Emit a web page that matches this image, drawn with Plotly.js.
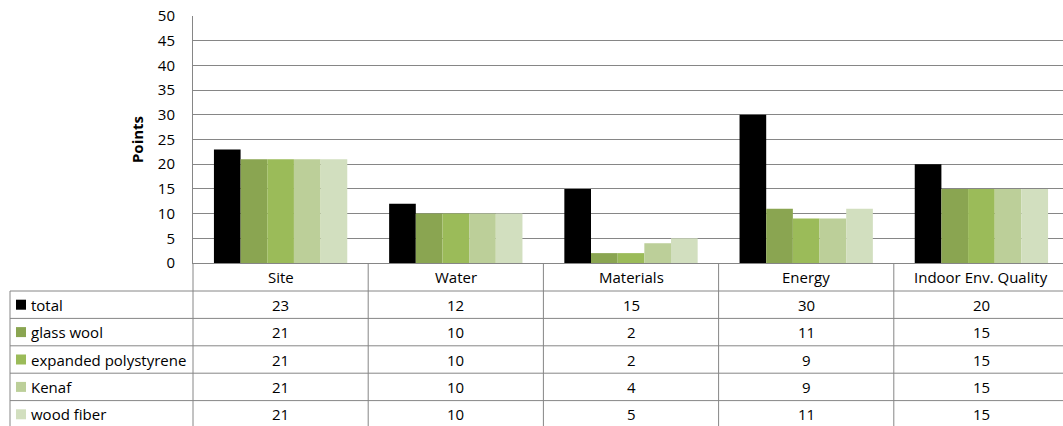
<!DOCTYPE html>
<html>
<head>
<meta charset="utf-8">
<script src="https://cdn.plot.ly/plotly-3.0.1.min.js"></script>
<style>
  html, body { margin: 0; padding: 0; overflow: hidden; background: #ffffff; }
  #chart { width: 1072px; height: 426px; }
</style>
</head>
<body>
<div id="chart"></div>
<script>
// Rating points per category for each insulation option
const categories = ['Site', 'Water', 'Materials', 'Energy', 'Indoor Env. Quality'];
const seriesNames = ['total', 'glass wool', 'expanded polystyrene', 'Kenaf', 'wood fiber'];
const total = [23, 12, 15, 30, 20];
const glassWool = [21, 10, 2, 11, 15];
const expandedPolystyrene = [21, 10, 2, 9, 15];
const kenaf = [21, 10, 4, 9, 15];
const woodFiber = [21, 10, 5, 11, 15];
const yTickValues = [0, 5, 10, 15, 20, 25, 30, 35, 40, 45, 50];

const seriesValues = [total, glassWool, expandedPolystyrene, kenaf, woodFiber];
const seriesColors = ['#000000', '#8aa551', '#9bbb59', '#bccf99', '#d2dfbf'];

// Page geometry (pixels)
const W = 1072, H = 426;
const M = { l: 193, r: 3, t: 16, b: 163 };
const plotW = W - M.l - M.r;
const plotH = H - M.t - M.b;
const axisY = M.t + plotH;           // pixel row of the category axis
const headerBottom = 291;            // bottom of category header row
const rowH = 27.4;                   // data table row height
const tableLeft = 10;                // left edge of the series-name column
const gridColor = '#868686';
const fontFamily = '"Open Sans", Lato, sans-serif';
const fontSize = 15;
const textColor = '#000000';

const px2x = px => (px - M.l) / plotW;
const py2y = py => (axisY - py) / plotH;

const traces = seriesNames.map((name, s) => ({
  type: 'bar',
  name: name,
  x: categories,
  y: seriesValues[s],
  marker: { color: seriesColors[s], line: { width: 0 } },
  hoverinfo: 'x+y+name'
}));

const shapes = [];
const annotations = [];
const n = categories.length;
const rows = seriesNames.length;
const tableBottom = headerBottom + rows * rowH;

// horizontal rules of the data table
for (let r = 0; r < rows; r++) {
  const py = headerBottom + r * rowH;
  shapes.push({
    type: 'line', xref: 'paper', yref: 'paper',
    x0: px2x(tableLeft), x1: 1, y0: py2y(py), y1: py2y(py),
    line: { color: gridColor, width: 1 }
  });
}
// left border of the series-name column
shapes.push({
  type: 'line', xref: 'paper', yref: 'paper',
  x0: px2x(tableLeft), x1: px2x(tableLeft), y0: py2y(headerBottom), y1: py2y(tableBottom),
  line: { color: gridColor, width: 1 }
});
// column separators between categories
for (let i = 0; i <= n; i++) {
  shapes.push({
    type: 'line', xref: 'paper', yref: 'paper',
    x0: i / n, x1: i / n, y0: 0, y1: py2y(tableBottom),
    line: { color: gridColor, width: 1 }
  });
}

// category header row
categories.forEach((c, i) => {
  annotations.push({
    xref: 'paper', yref: 'paper', x: (i + 0.5) / n, y: py2y((axisY + headerBottom) / 2),
    text: c, showarrow: false, xanchor: 'center', yanchor: 'middle',
    font: { family: fontFamily, size: fontSize, color: textColor }
  });
});

// series rows: legend key, name and values
seriesNames.forEach((name, r) => {
  const cy = headerBottom + (r + 0.5) * rowH;
  shapes.push({
    type: 'rect', xref: 'paper', yref: 'paper',
    x0: px2x(16), x1: px2x(26), y0: py2y(cy - 5), y1: py2y(cy + 5),
    fillcolor: seriesColors[r], line: { width: 0 }
  });
  annotations.push({
    xref: 'paper', yref: 'paper', x: px2x(29), y: py2y(cy),
    text: name, showarrow: false, xanchor: 'left', yanchor: 'middle',
    font: { family: fontFamily, size: fontSize, color: textColor }
  });
  seriesValues[r].forEach((v, i) => {
    annotations.push({
      xref: 'paper', yref: 'paper', x: (i + 0.5) / n, y: py2y(cy),
      text: String(v), showarrow: false, xanchor: 'center', yanchor: 'middle',
      font: { family: fontFamily, size: fontSize, color: textColor }
    });
  });
});

const layout = {
  width: W, height: H,
  margin: M,
  paper_bgcolor: '#ffffff', plot_bgcolor: '#ffffff',
  showlegend: false,
  barmode: 'group',
  bargap: 0.239,
  bargroupgap: 0,
  font: { family: fontFamily, size: fontSize, color: textColor },
  xaxis: {
    type: 'category',
    showticklabels: false,
    ticks: '',
    showgrid: false,
    showline: true, linecolor: gridColor, linewidth: 1,
    zeroline: false,
    fixedrange: true
  },
  yaxis: {
    range: [0, 50],
    tickvals: yTickValues,
    ticktext: yTickValues.map(String),
    ticks: '',
    ticklabelstandoff: 14,
    showgrid: true, gridcolor: gridColor, gridwidth: 1,
    showline: true, linecolor: gridColor, linewidth: 1,
    zeroline: false,
    automargin: false,
    fixedrange: true,
    tickfont: { family: fontFamily, size: fontSize, color: textColor },
    title: {
      text: '<b>Points</b>',
      standoff: 10,
      font: { family: fontFamily, size: fontSize, color: textColor }
    }
  },
  shapes: shapes,
  annotations: annotations
};

Plotly.newPlot('chart', traces, layout, { displayModeBar: false, staticPlot: true });
</script>
</body>
</html>
